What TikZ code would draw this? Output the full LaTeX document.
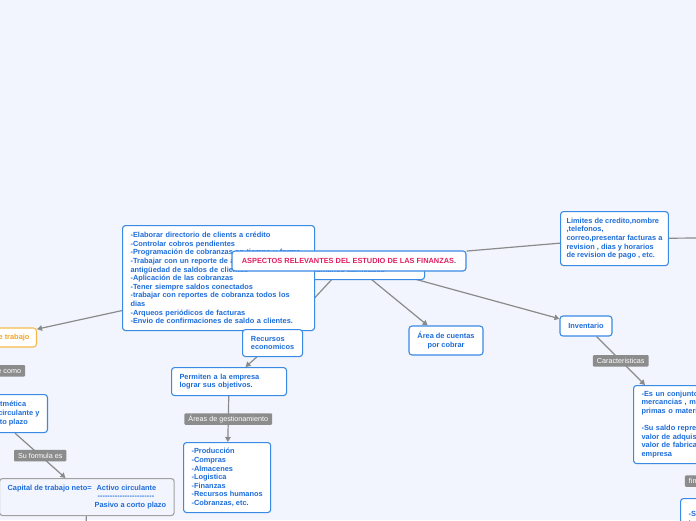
\documentclass[tikz,border=0pt]{standalone}
\usepackage{fontspec}
\setmainfont{Liberation Sans}
\usepackage{xcolor}
\usepackage{tikz}
\usetikzlibrary{positioning,arrows.meta,backgrounds}

\definecolor{bgcol}{RGB}{242,245,253}
\definecolor{mmblue}{RGB}{57,138,229}
\definecolor{mmtext}{RGB}{28,108,218}
\definecolor{mmpink}{RGB}{226,30,96}
\definecolor{mmorange}{RGB}{247,186,72}
\definecolor{mmorangetxt}{RGB}{244,165,35}
\definecolor{mmgray}{RGB}{138,138,138}
\definecolor{tagcol}{RGB}{140,140,140}

\begin{document}
\begin{tikzpicture}[
  x=1pt, y=-1pt,
  font=\bfseries\fontsize{7.4}{8.6}\selectfont,
  box/.style={draw=mmblue, line width=1.1pt, rounded corners=3pt, fill=white, text=mmtext, inner xsep=8pt, inner ysep=3pt, align=left, anchor=north west},
  title/.style={box, text=mmpink, align=center, anchor=center},
  cbox/.style={box, align=center, anchor=center},
  obox/.style={box, draw=mmorange, text=mmorangetxt, anchor=east, inner xsep=7pt},
  fbox/.style={box, draw=mmgray!80, fill=bgcol},
  tag/.style={fill=tagcol, text=white, font=\mdseries\fontsize{7.2}{8}\selectfont, rounded corners=1pt, inner xsep=4pt, inner ysep=1.5pt, minimum height=11.5pt},
  arr/.style={draw=mmgray, line width=1.2pt, -{Triangle[length=5pt,width=5.5pt]}},
  link/.style={draw=mmgray, line width=1.2pt}
]
  \useasboundingbox (0,0) rectangle (696,520);
  \begin{pgfonlayer}{background}
    \fill[bgcol] (0,0) rectangle (696,520);
  \end{pgfonlayer}

  % nodes around the title
  \node[box, minimum width=188pt, minimum height=27pt] (calif) at (236,252) {Contar con\\ Recursos humanos calificados};
  \node[box, text width=176pt, minimum height=105pt] (dir) at (122,225) {-Elaborar directorio de clients a crédito\\ -Controlar cobros pendientes\\ -Programación de cobranzas en tiempo y forma\\ -Trabajar con un reporte de análisis de\\ antigüedad de saldos de clientes\\ -Aplicación de las cobranzas\\ -Tener siempre saldos conectados\\ -trabajar con reportes de cobranza todos los\\ dias\\ -Arqueos periódicos de facturas\\ -Envio de confirmaciones de saldo a clientes.};
  \node[title, minimum width=234pt, minimum height=20pt] (main) at (349,261) {ASPECTOS RELEVANTES DEL ESTUDIO DE LAS FINANZAS{\color{mmtext}.}};

  \node[box, minimum width=107pt, minimum height=54pt, inner xsep=6pt] (lim) at (560,211) {Limites de credito,nombre\\ ,telefonos,\\ correo,presentar facturas a\\ revision , dias y horarios\\ de revision de pago , etc.};
  \node[cbox, minimum width=52pt, minimum height=20pt] (inv) at (586,326) {Inventario};
  \node[cbox, minimum width=74pt, minimum height=29pt] (area) at (446,340.5) {Área de cuentas\\ por cobrar};
  \node[box, minimum width=60pt, minimum height=27pt] (rec) at (242,329) {Recursos\\ economicos};
  \node[box, text width=99pt, minimum height=28pt] (perm) at (171,367) {Permiten a la empresa\\ lograr sus objetivos.};
  \node[box, minimum width=87pt, minimum height=70pt] (areas) at (183,442) {-Producción\\ -Compras\\ -Almacenes\\ -Logistica\\ -Finanzas\\ -Recursos humanos\\ -Cobranzas, etc.};
  \node[box, text width=86pt, minimum height=78pt] (conj) at (633,385) {-Es un conjunto de\\ mercancias , materias\\ primas o materiales\\[8.6pt] -Su saldo representa\\ valor de adquisición o\\ valor de fabricación\\ empresa};
  \node[box, text width=84pt, minimum height=40pt] (saldo) at (680,498) {-Se utilizan para\\ transformar};

  % left branch
  \node[obox, minimum height=19pt] (cap) at (37,337.5) {Capital de trabajo};
  \node[box, anchor=north east, minimum height=38pt] (dif) at (48,394) {\hspace*{-3pt}La diferencia aritmética\\ entre el activo circulante y\\ \hspace*{2pt}el pasivo a corto plazo};
  \node[fbox, minimum height=37pt] (neto) at (-1,478) {\begin{tabular}{@{}l@{\hspace{3pt}}l@{}}
    Capital de trabajo neto= & \hspace{2pt}Activo circulante\\
    & \hspace{3pt}-{}-{}-{}-{}-{}-{}-{}-{}-{}-{}-{}-{}-{}-{}-{}-{}-{}-{}-{}-{}-{}-{}-{}\\
    & Pasivo a corto plazo
  \end{tabular}};

  \coordinate (limout) at (700,238);
  \coordinate (netoout) at (86,530);

  \begin{pgfonlayer}{background}
    \foreach \n in {rec,area,inv,cap} \draw[arr] (main) -- (\n);
    \draw[link] (main) -- (lim);
    \draw[link] (lim) -- (limout);
    \draw[arr] (rec) -- (perm);
    \draw[arr] (perm) -- node[tag] {Áreas de gestionamiento} (areas);
    \draw[arr] (inv) -- node[tag] {Caracteristicas} (conj);
    \draw[arr] (conj) -- node[tag] {financiamiento} (saldo);
    \draw[arr] (cap) -- node[tag] {Se define como} (dif);
    \draw[arr] (dif) -- node[tag] {Su formula es} (neto);
    \draw[link] (neto) -- (netoout);
  \end{pgfonlayer}
\end{tikzpicture}
\end{document}
